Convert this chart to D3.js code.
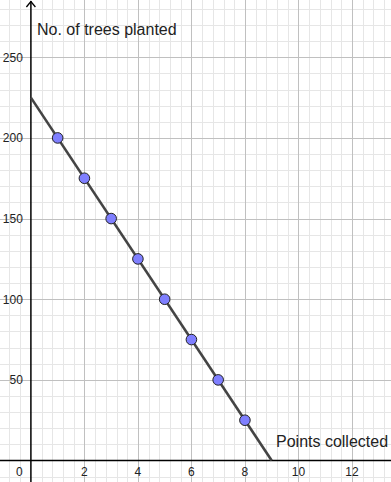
<!DOCTYPE html>
<html>
<head>
<meta charset="utf-8">
<script src="https://cdn.jsdelivr.net/npm/d3@7"></script>
<style>
  body { margin: 0; background: #fff; }
  svg { display: block; }
  text { font-family: "Liberation Sans", Arial, sans-serif; }
</style>
</head>
<body>
<script>
// points collected vs trees planted
const pointsCollected = [1, 2, 3, 4, 5, 6, 7, 8];
const treesPlanted = [200, 175, 150, 125, 100, 75, 50, 25];
// line through the points, from y-axis to x-axis
const lineX = [0, 9];
const lineY = [225, 0];
const xTickLabels = [2, 4, 6, 8, 10, 12];
const yTickLabels = [50, 100, 150, 200, 250];
const xTitle = "Points collected";
const yTitle = "No. of trees planted";

const width = 391, height = 482;

const x = d3.scaleLinear().domain([-1.155, 13.46]).range([0, width]);
const y = d3.scaleLinear().domain([-13.3, 285.5]).range([height, 0]);

const svg = d3.select("body").append("svg")
    .attr("width", width)
    .attr("height", height);

// minor grid
const minorX = d3.range(-1.2, 13.6, 0.4).filter(v => Math.abs(v / 2 - Math.round(v / 2)) > 0.01);
const minorY = d3.range(-10, 290, 10).filter(v => v % 50 !== 0);
const majorX = d3.range(-2, 14.1, 2).filter(v => v !== 0);
const majorY = d3.range(50, 290, 50);

svg.append("g").selectAll("line.mx")
  .data(minorX).join("line")
    .attr("x1", d => Math.round(x(d)) + 0.5).attr("x2", d => Math.round(x(d)) + 0.5)
    .attr("y1", 0).attr("y2", height)
    .attr("stroke", "#e6e6e6").attr("stroke-width", 1);
svg.append("g").selectAll("line.my")
  .data(minorY).join("line")
    .attr("y1", d => Math.round(y(d)) + 0.5).attr("y2", d => Math.round(y(d)) + 0.5)
    .attr("x1", 0).attr("x2", width)
    .attr("stroke", "#e6e6e6").attr("stroke-width", 1);

// major grid
svg.append("g").selectAll("line")
  .data(majorX).join("line")
    .attr("x1", d => Math.round(x(d)) + 0.5).attr("x2", d => Math.round(x(d)) + 0.5)
    .attr("y1", 0).attr("y2", height)
    .attr("stroke", "#c0c0c0").attr("stroke-width", 1);
svg.append("g").selectAll("line")
  .data(majorY).join("line")
    .attr("y1", d => Math.round(y(d)) + 0.5).attr("y2", d => Math.round(y(d)) + 0.5)
    .attr("x1", 0).attr("x2", width)
    .attr("stroke", "#c0c0c0").attr("stroke-width", 1);

// axes
const x0 = x(0), y0 = y(0);
svg.append("line")
    .attr("x1", 0).attr("x2", width)
    .attr("y1", y0).attr("y2", y0)
    .attr("stroke", "#000").attr("stroke-width", 1.5);
svg.append("line")
    .attr("x1", x0).attr("x2", x0)
    .attr("y1", 1).attr("y2", height)
    .attr("stroke", "#000").attr("stroke-width", 1.5);
// arrow on y axis
svg.append("path")
    .attr("d", `M${x0 - 4.5},${7} L${x0},${1.5} L${x0 + 4.5},${7}`)
    .attr("fill", "none").attr("stroke", "#000").attr("stroke-width", 1.3);

// tick labels
svg.append("g").selectAll("text")
  .data(xTickLabels).join("text")
    .attr("x", d => x(d))
    .attr("y", y0 + 15.5)
    .attr("text-anchor", "middle")
    .attr("font-size", 12)
    .attr("fill", "#222")
    .text(d => d);
svg.append("g").selectAll("text")
  .data(yTickLabels).join("text")
    .attr("x", x0 - 8)
    .attr("y", d => y(d) + 4.3)
    .attr("text-anchor", "end")
    .attr("font-size", 12)
    .attr("fill", "#222")
    .text(d => d);
svg.append("text")
    .attr("x", x0 - 11.5)
    .attr("y", y0 + 15.5)
    .attr("text-anchor", "middle")
    .attr("font-size", 12)
    .attr("fill", "#222")
    .text("0");

// fitted line
svg.append("line")
    .attr("x1", x(lineX[0])).attr("y1", y(lineY[0]))
    .attr("x2", x(lineX[1])).attr("y2", y(lineY[1]))
    .attr("stroke", "#444").attr("stroke-width", 2.6);

// points
svg.append("g").selectAll("circle")
  .data(pointsCollected).join("circle")
    .attr("cx", d => x(d))
    .attr("cy", (d, i) => y(treesPlanted[i]))
    .attr("r", 5.3)
    .attr("fill", "#7f7fff")
    .attr("stroke", "#222")
    .attr("stroke-width", 1);

// axis titles
svg.append("text")
    .attr("x", 37).attr("y", 34.5)
    .attr("font-size", 16)
    .attr("fill", "#222")
    .text(yTitle);
svg.append("text")
    .attr("x", 276).attr("y", 446.5)
    .attr("font-size", 16)
    .attr("fill", "#222")
    .text(xTitle);
</script>
</body>
</html>
